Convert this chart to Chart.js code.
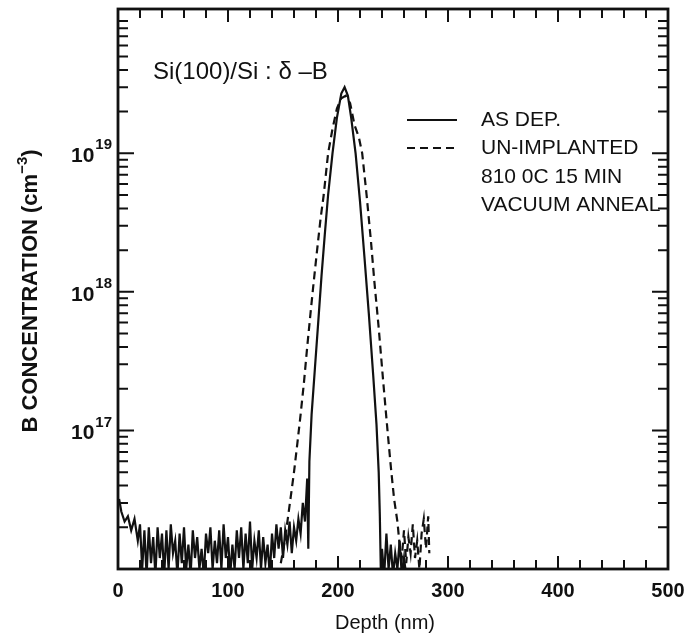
<!DOCTYPE html>
<html lang="en">
<head>
<meta charset="UTF-8">
<title>B concentration depth profile</title>
<style>
  html, body { margin: 0; padding: 0; background: #fff; }
  canvas { display: block; }
</style>
</head>
<body>
<canvas id="chart" width="686" height="639"></canvas>
<script src="https://cdn.jsdelivr.net/npm/chart.js"></script>
<script>
  // AS DEP. profile (solid)
  const asDepDepth = [
    1, 3, 6, 9, 12, 15, 18, 20, 22, 24, 26, 28, 30, 32, 34, 36, 38, 40, 42, 44,
    46, 48, 50, 52, 54, 56, 58, 60, 62, 64, 66, 68, 70, 72, 74, 76, 78, 80, 82, 84,
    86, 88, 90, 92, 94, 96, 98, 100, 102, 104, 106, 108, 110, 112, 114, 116, 118, 120, 122, 124,
    126, 128, 130, 132, 134, 136, 138, 140, 142, 144, 146, 148, 150, 152, 154, 156, 158, 160, 162, 164,
    166, 168, 170, 172, 173, 174, 176, 179, 182, 185, 188, 191, 195, 199, 203, 206, 209, 212, 216, 220,
    224, 228, 232, 235, 237, 238, 239, 240, 242, 244, 246, 248, 250, 252, 254, 256, 258, 260, 262
  ];
  const asDepConc = [
    3.2e16, 2.6e16, 2.2e16, 2.4e16, 1.9e16, 2.3e16, 1.6e16, 2.1e16, 1.0e16, 1.9e16, 0.9e16, 2.0e16, 1.1e16, 1.7e16, 0.9e16, 2.0e16, 1.2e16, 1.8e16, 0.9e16, 1.9e16,
    1.0e16, 2.1e16, 1.3e16, 1.6e16, 0.9e16, 1.8e16, 1.1e16, 2.0e16, 1.0e16, 1.5e16, 0.9e16, 1.9e16, 1.2e16, 1.7e16, 1.0e16, 1.4e16, 0.9e16, 1.8e16, 1.3e16, 2.0e16,
    1.0e16, 1.6e16, 1.1e16, 1.9e16, 1.0e16, 2.1e16, 1.2e16, 1.7e16, 0.9e16, 1.5e16, 1.0e16, 1.9e16, 1.2e16, 2.0e16, 1.0e16, 1.8e16, 1.1e16, 2.2e16, 1.0e16, 1.6e16,
    1.2e16, 1.9e16, 1.0e16, 1.7e16, 1.1e16, 1.5e16, 0.9e16, 1.8e16, 1.2e16, 2.1e16, 1.4e16, 2.0e16, 1.2e16, 1.9e16, 1.5e16, 2.2e16, 1.3e16, 2.0e16, 1.6e16, 2.3e16,
    1.8e16, 3.0e16, 2.2e16, 4.5e16, 1.4e16, 6.0e16, 1.3e17, 2.8e17, 6.0e17, 1.3e18, 2.6e18, 5.0e18, 1.0e19, 1.8e19, 2.7e19, 3.0e19, 2.6e19, 1.8e19, 1.0e19, 4.5e18,
    1.8e18, 7.0e17, 2.5e17, 1.1e17, 5.0e16, 2.5e16, 0.9e16, 1.4e16, 0.9e16, 1.8e16, 1.0e16, 1.5e16, 0.9e16, 1.3e16, 1.0e16, 1.6e16, 0.9e16, 1.2e16, 0.9e16
  ];

  // UN-IMPLANTED, 810 0C 15 MIN vacuum anneal (dashed)
  const annealDepth = [
    148, 151, 154, 157, 160, 163, 166, 169, 172, 175, 178, 181, 184, 187, 191, 195, 199, 203, 207, 211,
    215, 219, 222, 226, 230, 233, 237, 241, 245, 248, 251, 254, 256, 258, 260, 262, 264, 266, 268, 270,
    272, 274, 276, 278, 280, 282, 283
  ];
  const annealConc = [
    1.1e16, 1.5e16, 2.2e16, 3.3e16, 5.0e16, 8.0e16, 1.3e17, 2.2e17, 4.0e17, 7.0e17, 1.2e18, 2.0e18, 3.3e18, 5.0e18, 1.0e19, 1.5e19, 2.1e19, 2.5e19, 2.6e19, 2.3e19,
    1.6e19, 1.3e19, 1.0e19, 5.0e18, 2.3e18, 1.2e18, 5.5e17, 2.3e17, 1.0e17, 5.5e16, 3.2e16, 2.2e16, 1.5e16, 1.2e16, 1.9e16, 1.1e16, 1.7e16, 1.3e16, 2.1e16, 1.2e16,
    1.6e16, 1.0e16, 1.8e16, 2.3e16, 1.4e16, 2.4e16, 1.3e16
  ];

  const xTickLabels = [0, 100, 200, 300, 400, 500];
  const yTickExponents = [17, 18, 19];
  const legendLabels = ['AS DEP.', 'UN-IMPLANTED', '810 0C 15 MIN', 'VACUUM ANNEAL'];

  const FONT = '"Liberation Sans", Arial, Helvetica, sans-serif';
  const INK = '#111';

  const toPoints = (xs, ys) => xs.map((x, i) => ({ x: x, y: ys[i] }));

  // frame, inward ticks, labels and the legend
  const decorations = {
    id: 'decorations',
    afterDatasetsDraw(chart) {
      const { ctx, chartArea: a, scales: { x, y } } = chart;
      ctx.save();
      ctx.strokeStyle = INK;
      ctx.fillStyle = INK;

      // x ticks, top and bottom
      ctx.lineWidth = 2;
      for (let v = 0; v <= 500; v += 20) {
        const px = x.getPixelForValue(v);
        const len = v % 100 === 0 ? 13 : 9;
        ctx.beginPath();
        ctx.moveTo(px, a.bottom); ctx.lineTo(px, a.bottom - len);
        ctx.moveTo(px, a.top); ctx.lineTo(px, a.top + len);
        ctx.stroke();
      }
      // y ticks, left and right (log)
      for (let d = 16; d <= 19; d++) {
        for (let m = 1; m <= 9; m++) {
          const v = m * Math.pow(10, d);
          if (v > y.max) break;
          const py = y.getPixelForValue(v);
          const len = m === 1 ? 16 : 10;
          ctx.beginPath();
          ctx.moveTo(a.left, py); ctx.lineTo(a.left + len, py);
          ctx.moveTo(a.right, py); ctx.lineTo(a.right - len, py);
          ctx.stroke();
        }
      }
      // frame
      ctx.lineWidth = 2.8;
      ctx.strokeRect(a.left, a.top, a.right - a.left, a.bottom - a.top);

      // x tick labels
      ctx.font = 'bold 20px ' + FONT;
      ctx.textAlign = 'center';
      ctx.textBaseline = 'middle';
      xTickLabels.forEach(v => ctx.fillText(String(v), x.getPixelForValue(v), a.bottom + 22));

      // y tick labels 10^n
      yTickExponents.forEach(e => {
        const py = y.getPixelForValue(Math.pow(10, e));
        ctx.textAlign = 'right';
        ctx.font = 'bold 15px ' + FONT;
        const ew = ctx.measureText(String(e)).width;
        ctx.fillText(String(e), a.left - 6, py - 8);
        ctx.font = 'bold 21px ' + FONT;
        ctx.fillText('10', a.left - 7 - ew, py + 3);
      });

      // axis titles
      ctx.font = '20px ' + FONT;
      ctx.textAlign = 'center';
      ctx.fillText('Depth (nm)', (a.left + a.right) / 2 - 8, a.bottom + 54);

      ctx.save();
      ctx.translate(31, (a.top + a.bottom) / 2 + 2);
      ctx.rotate(-Math.PI / 2);
      const big = 'bold 22px ' + FONT;
      const small = 'bold 15px ' + FONT;
      const t1 = 'B CONCENTRATION (cm';
      const t2 = '\u22123';
      const t3 = ')';
      ctx.font = big;
      const w1 = ctx.measureText(t1).width;
      const w3 = ctx.measureText(t3).width;
      ctx.font = small;
      const w2 = ctx.measureText(t2).width;
      const sx = -(w1 + w2 + w3) / 2;
      ctx.textAlign = 'left';
      ctx.font = big;
      ctx.fillText(t1, sx, 0);
      ctx.font = small;
      ctx.fillText(t2, sx + w1, -8);
      ctx.font = big;
      ctx.fillText(t3, sx + w1 + w2, 0);
      ctx.restore();

      // annotation
      ctx.font = '24px ' + FONT;
      ctx.textAlign = 'left';
      ctx.fillText('Si(100)/Si : \u03b4 \u2013B', 153, 72);

      // legend
      const ds = chart.data.datasets;
      ctx.font = '21px ' + FONT;
      const rows = [120, 148, 177, 205];
      legendLabels.forEach((txt, i) => ctx.fillText(txt, 481, rows[i]));
      [0, 1].forEach(i => {
        ctx.lineWidth = ds[i].borderWidth;
        ctx.setLineDash(ds[i].borderDash || []);
        ctx.beginPath();
        ctx.moveTo(407, rows[i]);
        ctx.lineTo(457, rows[i]);
        ctx.stroke();
      });
      ctx.restore();
    }
  };

  new Chart(document.getElementById('chart'), {
    type: 'line',
    data: {
      datasets: [{
        label: legendLabels[0],
        data: toPoints(asDepDepth, asDepConc),
        borderColor: INK,
        borderWidth: 2.2,
        borderDash: [],
        pointRadius: 0,
        tension: 0,
        clip: 0
      }, {
        label: legendLabels[1],
        data: toPoints(annealDepth, annealConc),
        borderColor: INK,
        borderWidth: 2.2,
        borderDash: [8, 5],
        pointRadius: 0,
        tension: 0,
        clip: 0
      }]
    },
    options: {
      responsive: false,
      animation: false,
      devicePixelRatio: 1,
      layout: { padding: { left: 118, right: 18, top: 9, bottom: 70 } },
      plugins: { legend: { display: false }, tooltip: { enabled: false } },
      scales: {
        x: { type: 'linear', min: 0, max: 500, display: false },
        y: { type: 'logarithmic', min: 1e16, max: 1.1e20, display: false }
      }
    },
    plugins: [decorations]
  });
</script>
</body>
</html>
